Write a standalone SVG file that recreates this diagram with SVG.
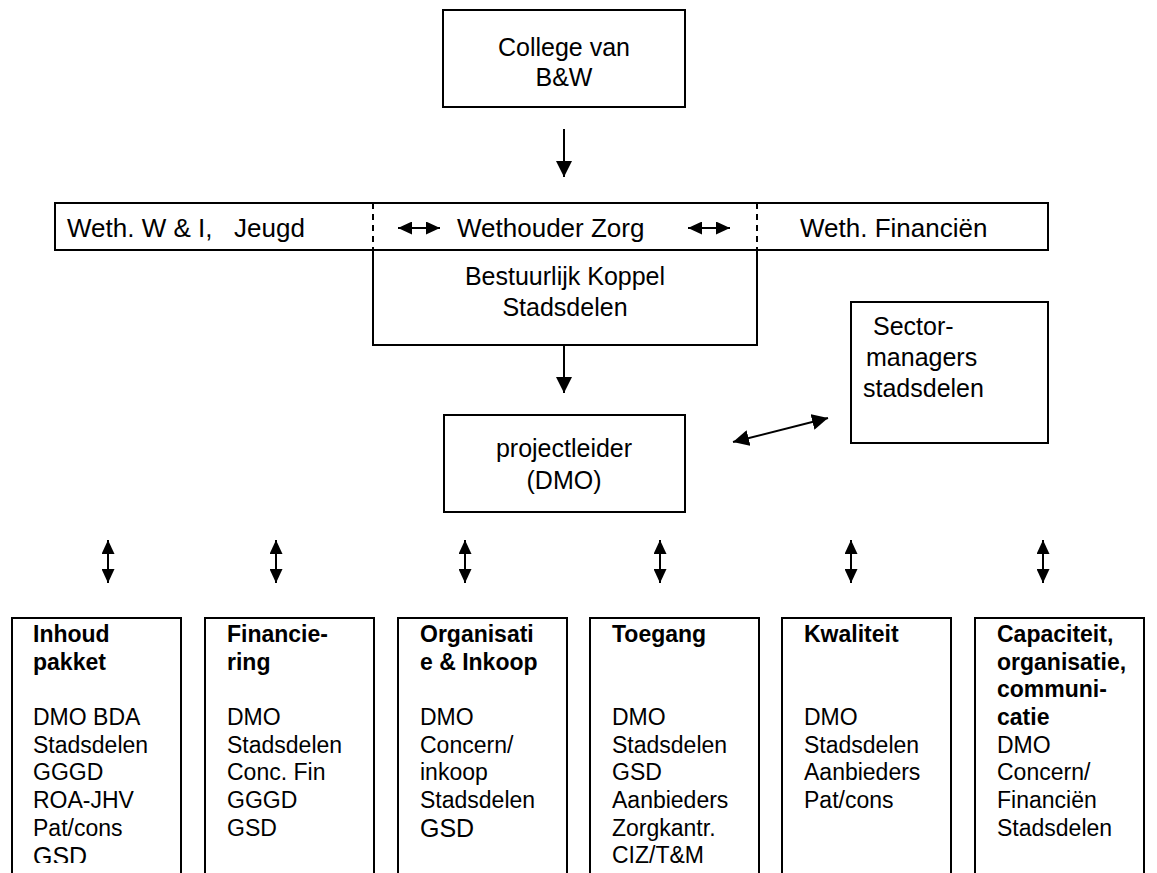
<svg xmlns="http://www.w3.org/2000/svg" width="1157" height="873" viewBox="0 0 1157 873">
<defs>
<style>
.box{fill:#fff;stroke:#000;stroke-width:2}
.ln{stroke:#000;stroke-width:2;fill:none}
.dash{stroke:#000;stroke-width:2;stroke-dasharray:6 5;fill:none}
.t{font-family:"Liberation Sans",Arial,sans-serif;font-size:25px;fill:#000}
.r{font-size:26px}
.c{text-anchor:middle}
.b{font-family:"Liberation Sans",Arial,sans-serif;font-size:23px;fill:#000}
.bb{font-weight:bold}
</style>
<marker id="ah" viewBox="0 0 16 16" refX="16" refY="8" markerWidth="8" markerHeight="8" orient="auto-start-reverse" markerUnits="strokeWidth">
<path d="M0,0 L16,8 L0,16 z" fill="#000"/>
</marker>
<marker id="as" viewBox="0 0 14 13" refX="14" refY="6.5" markerWidth="7" markerHeight="6.5" orient="auto-start-reverse" markerUnits="strokeWidth">
<path d="M0,0 L14,6.5 L0,13 z" fill="#000"/>
</marker>
<clipPath id="clipb"><rect x="0" y="600" width="1157" height="263"/></clipPath>
</defs>
<rect width="1157" height="873" fill="#fff"/>

<g id="college">
<rect class="box" x="443" y="10" width="242" height="97"/>
<text class="t c" x="564" y="56">College van</text>
<text class="t c" x="564" y="86">B&amp;W</text>
</g>

<g id="wethouders">
<rect class="box" x="55" y="203" width="993" height="47"/>
<rect x="374" y="204" width="382" height="45" fill="#fff"/>
<path class="ln" d="M374,203 H756"/>
<path class="dash" d="M373,203 V250 M757,203 V250 M373,250 H757"/>
<text class="t r" x="67" y="237">Weth. W &amp; I,</text>
<text class="t r" x="234" y="237">Jeugd</text>
<text class="t r" x="457" y="237">Wethouder Zorg</text>
<text class="t r" x="800" y="237">Weth. Financiën</text>
<path class="ln" d="M398,228 H440" marker-start="url(#as)" marker-end="url(#as)"/>
<path class="ln" d="M688,228 H730" marker-start="url(#as)" marker-end="url(#as)"/>
</g>

<g id="bestuurlijk">
<path class="ln" d="M373,250 V345 H757 V250"/>
<text class="t c" x="565" y="285">Bestuurlijk Koppel</text>
<text class="t c" x="565" y="316">Stadsdelen</text>
</g>

<g id="projectleider">
<rect class="box" x="444" y="415" width="241" height="97"/>
<text class="t c" x="564" y="457">projectleider</text>
<text class="t c" x="564" y="489">(DMO)</text>
</g>

<g id="sectormanagers">
<rect class="box" x="851" y="302" width="197" height="141"/>
<text class="t" x="873" y="335">Sector-</text>
<text class="t" x="866" y="366">managers</text>
<text class="t" x="863" y="397">stadsdelen</text>
</g>

<g id="connectors">
<path class="ln" d="M564,129 V177" marker-end="url(#ah)"/>
<path class="ln" d="M564,346 V393" marker-end="url(#ah)"/>
<path class="ln" d="M733,442 L828,418" marker-start="url(#ah)" marker-end="url(#ah)"/>
<path class="ln" d="M108,540 V583" marker-start="url(#as)" marker-end="url(#as)"/>
<path class="ln" d="M276,540 V583" marker-start="url(#as)" marker-end="url(#as)"/>
<path class="ln" d="M465,540 V583" marker-start="url(#as)" marker-end="url(#as)"/>
<path class="ln" d="M660,540 V583" marker-start="url(#as)" marker-end="url(#as)"/>
<path class="ln" d="M851,540 V583" marker-start="url(#as)" marker-end="url(#as)"/>
<path class="ln" d="M1043,540 V583" marker-start="url(#as)" marker-end="url(#as)"/>
</g>

<g id="inhoud">
<path class="ln" d="M12,875 V618 H181 V875"/>
<g clip-path="url(#clipb)">
<text class="b bb" x="33" y="642">Inhoud</text>
<text class="b bb" x="33" y="670">pakket</text>
<text class="b" x="33" y="725">DMO BDA</text>
<text class="b" x="33" y="753">Stadsdelen</text>
<text class="b" x="33" y="780">GGGD</text>
<text class="b" x="33" y="808">ROA-JHV</text>
<text class="b" x="33" y="836">Pat/cons</text>
<text class="b" x="33" y="865" style="font-size:25px">GSD</text>
</g>
</g>

<g id="financiering">
<path class="ln" d="M205,875 V618 H374 V875"/>
<text class="b bb" x="227" y="642">Financie-</text>
<text class="b bb" x="227" y="670">ring</text>
<text class="b" x="227" y="725">DMO</text>
<text class="b" x="227" y="753">Stadsdelen</text>
<text class="b" x="227" y="780">Conc. Fin</text>
<text class="b" x="227" y="808">GGGD</text>
<text class="b" x="227" y="836">GSD</text>
</g>

<g id="organisatie">
<path class="ln" d="M398,875 V618 H567 V875"/>
<text class="b bb" x="420" y="642">Organisati</text>
<text class="b bb" x="420" y="670">e &amp; Inkoop</text>
<text class="b" x="420" y="725">DMO</text>
<text class="b" x="420" y="753">Concern/</text>
<text class="b" x="420" y="780">inkoop</text>
<text class="b" x="420" y="808">Stadsdelen</text>
<text class="b" x="420" y="837" style="font-size:25px">GSD</text>
</g>

<g id="toegang">
<path class="ln" d="M590,875 V618 H759 V875"/>
<text class="b bb" x="612" y="642">Toegang</text>
<text class="b" x="612" y="725">DMO</text>
<text class="b" x="612" y="753">Stadsdelen</text>
<text class="b" x="612" y="780">GSD</text>
<text class="b" x="612" y="808">Aanbieders</text>
<text class="b" x="612" y="836">Zorgkantr.</text>
<text class="b" x="612" y="863">CIZ/T&amp;M</text>
</g>

<g id="kwaliteit">
<path class="ln" d="M782,875 V618 H951 V875"/>
<text class="b bb" x="804" y="642">Kwaliteit</text>
<text class="b" x="804" y="725">DMO</text>
<text class="b" x="804" y="753">Stadsdelen</text>
<text class="b" x="804" y="780">Aanbieders</text>
<text class="b" x="804" y="808">Pat/cons</text>
</g>

<g id="capaciteit">
<path class="ln" d="M975,875 V618 H1144 V875"/>
<text class="b bb" x="997" y="642">Capaciteit,</text>
<text class="b bb" x="997" y="670">organisatie,</text>
<text class="b bb" x="997" y="697">communi-</text>
<text class="b bb" x="997" y="725">catie</text>
<text class="b" x="997" y="753">DMO</text>
<text class="b" x="997" y="780">Concern/</text>
<text class="b" x="997" y="808">Financiën</text>
<text class="b" x="997" y="836">Stadsdelen</text>
</g>
</svg>
